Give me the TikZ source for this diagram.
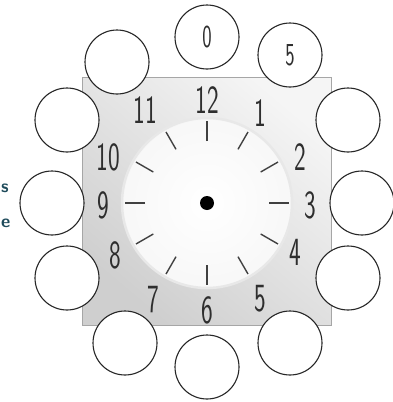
\documentclass[tikz,border=0pt]{standalone}
\usetikzlibrary{calc}
\definecolor{ink}{HTML}{2E2E2E}
\definecolor{frag}{HTML}{1D4A5A}
\begin{document}
\begin{tikzpicture}[x=1pt,y=-1pt,
  slot/.style={circle,draw=black!85,line width=1.1pt,fill=white,minimum size=64pt,inner sep=0pt},
  hour/.style={text=ink,font=\fontsize{40}{40}\sffamily,xscale=0.62,inner sep=0pt},
  slotnum/.style={text=ink,font=\fontsize{32}{32}\sffamily,xscale=0.62,inner sep=0pt},
  tick/.style={draw=black!75,line width=1.4pt},
  fragtext/.style={text=frag,font=\fontsize{18}{18}\sffamily\bfseries,inner sep=0pt}]
\useasboundingbox (0,0) rectangle (392,402);
% square face
\shade[top color=gray!8,bottom color=gray!38,shading angle=-40]
  (82,77) rectangle (331,325);
\draw[gray!70,line width=0.8pt] (82,77) rectangle (331,325);
% inner dial
\coordinate (c) at (207,203);
\shade[inner color=white,outer color=gray!6] (c) circle[radius=85];
\draw[gray!18,line width=2.5pt] (c) circle[radius=85];
% ticks
\foreach \a in {0,30,...,330}
  \draw[tick] ($(c)+(\a:62)$) -- ($(c)+(\a:82)$);
\fill[black] (c) circle[radius=7];
% hour numbers
\node[hour] (h12) at (207,100) {12};
\node[hour] (h1)  at (260,113) {1};
\node[hour] (h2)  at (300,157) {2};
\node[hour] (h3)  at (310,205) {3};
\node[hour] (h4)  at (295,252) {4};
\node[hour] (h5)  at (260,299) {5};
\node[hour] (h6)  at (207,310) {6};
\node[hour] (h7)  at (153,300) {7};
\node[hour] (h8)  at (115,255) {8};
\node[hour] (h9)  at (103,205) {9};
\node[hour] (h10) at (108,157) {10};
\node[hour] (h11) at (145,110) {11};
% outer answer circles
\node[slot] (s0)  at (207,37)  {};
\node[slot] (s5)  at (290,55)  {};
\node[slot] (s10) at (348,120) {};
\node[slot] (s15) at (362,203) {};
\node[slot] (s20) at (348,278) {};
\node[slot] (s25) at (290,343) {};
\node[slot] (s30) at (207,367) {};
\node[slot] (s35) at (125,343) {};
\node[slot] (s40) at (67,278)  {};
\node[slot] (s45) at (52,203)  {};
\node[slot] (s50) at (67,120)  {};
\node[slot] (s55) at (117,62)  {};
\node[slotnum] (n0) at (s0) {0};
\node[slotnum] (n5) at (s5) {5};
% cut-off text at the left edge
\node[fragtext,anchor=west] (fs) at (1,188) {s};
\node[fragtext,anchor=west] (fe) at (1,223) {e};
\end{tikzpicture}
\end{document}
